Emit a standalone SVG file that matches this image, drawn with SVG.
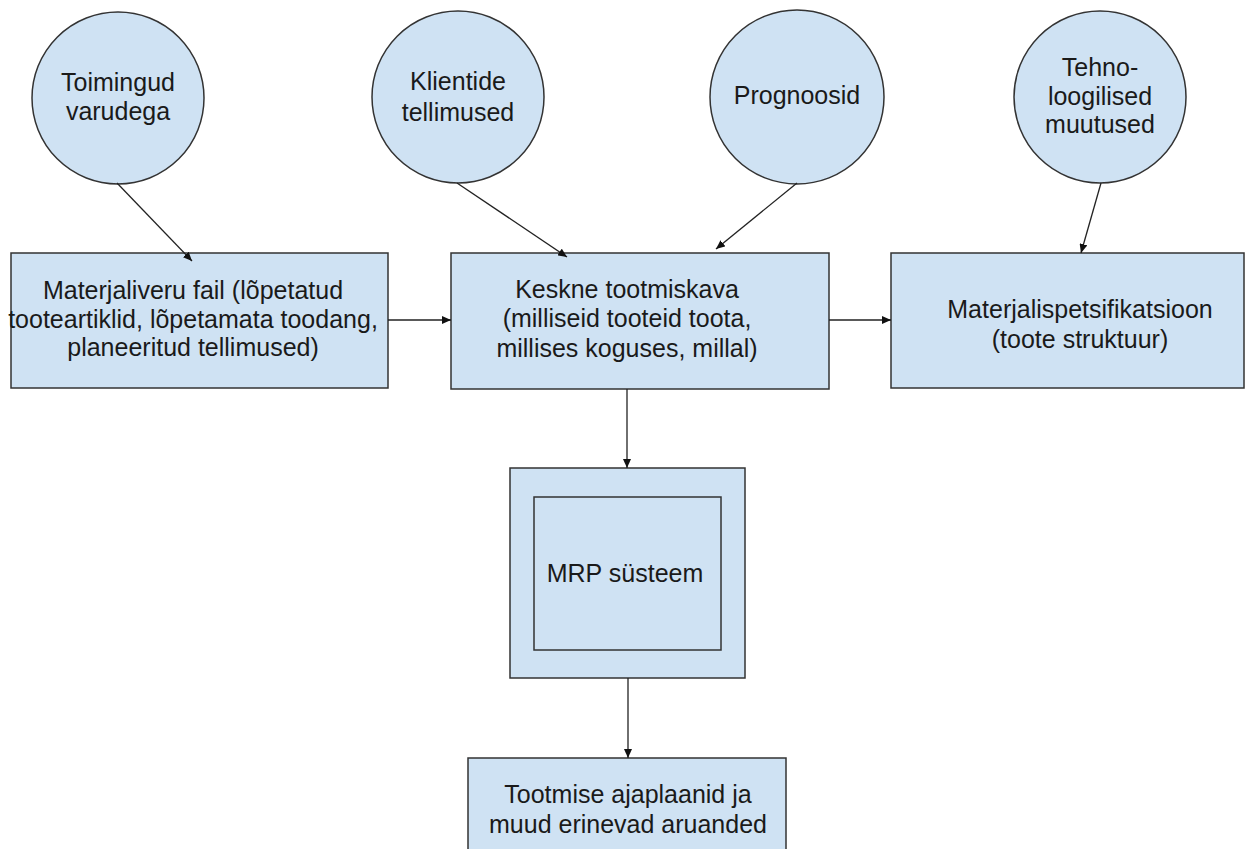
<svg xmlns="http://www.w3.org/2000/svg" width="1256" height="849" viewBox="0 0 1256 849">
<style>
.shape{fill:#cfe2f3;stroke:#333;stroke-width:1.5}
.lbl{font-family:"Liberation Sans",Arial,sans-serif;font-size:25px;fill:#1a1a1a;text-anchor:middle}
.conn{stroke:#222;stroke-width:1.3;fill:none;marker-end:url(#arr)}
</style>
<defs>
<marker id="arr" markerUnits="userSpaceOnUse" markerWidth="10" markerHeight="8" refX="9" refY="4" orient="auto">
<path d="M0,0 L9,4 L0,8 Z" fill="#111"/>
</marker>
</defs>
<rect width="1256" height="849" fill="#fff"/>
<g id="c-toimingud">
<circle class="shape" cx="118" cy="98" r="86"/>
<text class="lbl" x="118" y="91">Toimingud</text>
<text class="lbl" x="118" y="120">varudega</text>
</g>
<g id="c-klientide">
<circle class="shape" cx="458" cy="97" r="86"/>
<text class="lbl" x="458" y="90">Klientide</text>
<text class="lbl" x="458" y="121">tellimused</text>
</g>
<g id="c-prognoosid">
<circle class="shape" cx="797" cy="97" r="87"/>
<text class="lbl" x="797" y="104">Prognoosid</text>
</g>
<g id="c-tehno">
<circle class="shape" cx="1100" cy="97" r="86"/>
<text class="lbl" x="1100" y="76">Tehno-</text>
<text class="lbl" x="1100" y="105">loogilised</text>
<text class="lbl" x="1100" y="133">muutused</text>
</g>
<g id="b-materjaliveru">
<rect class="shape" x="11" y="253" width="377" height="135"/>
<text class="lbl" x="193" y="299">Materjaliveru fail (lõpetatud</text>
<text class="lbl" x="193" y="328">tooteartiklid, lõpetamata toodang,</text>
<text class="lbl" x="193" y="356">planeeritud tellimused)</text>
</g>
<g id="b-keskne">
<rect class="shape" x="451" y="253" width="378" height="136"/>
<text class="lbl" x="627" y="298">Keskne tootmiskava</text>
<text class="lbl" x="627" y="327">(milliseid tooteid toota,</text>
<text class="lbl" x="627" y="357">millises koguses, millal)</text>
</g>
<g id="b-spets">
<rect class="shape" x="891" y="253" width="353" height="135"/>
<text class="lbl" x="1080" y="318">Materjalispetsifikatsioon</text>
<text class="lbl" x="1080" y="348">(toote struktuur)</text>
</g>
<g id="b-mrp">
<rect class="shape" x="510" y="468" width="235" height="210"/>
<rect class="shape" x="534" y="497" width="187" height="153"/>
<text class="lbl" x="625" y="582">MRP süsteem</text>
</g>
<g id="b-aruanded">
<rect class="shape" x="468" y="758" width="318" height="100"/>
<text class="lbl" x="628" y="803">Tootmise ajaplaanid ja</text>
<text class="lbl" x="628" y="833">muud erinevad aruanded</text>
</g>
<g id="connectors">
<line class="conn" x1="117" y1="183" x2="192" y2="261"/>
<line class="conn" x1="457" y1="183" x2="567" y2="257"/>
<line class="conn" x1="797" y1="183" x2="716" y2="249"/>
<line class="conn" x1="1101" y1="183" x2="1081" y2="253"/>
<line class="conn" x1="388" y1="320" x2="451" y2="320"/>
<line class="conn" x1="829" y1="320" x2="891" y2="320"/>
<line class="conn" x1="627" y1="389" x2="627" y2="468"/>
<line class="conn" x1="628" y1="678" x2="628" y2="758"/>
</g>
</svg>
